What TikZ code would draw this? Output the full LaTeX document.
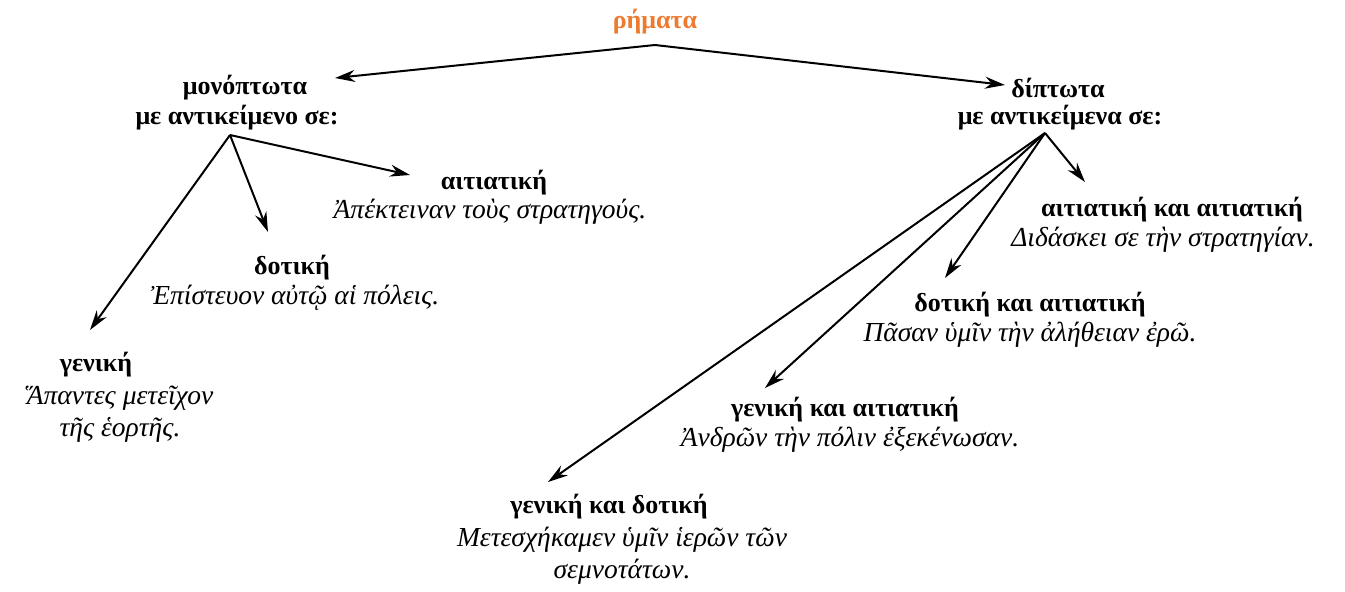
\documentclass[tikz,border=0pt]{standalone}
\usepackage{fontspec}
\setmainfont{Liberation Serif}
\usetikzlibrary{arrows.meta}
\definecolor{rorange}{HTML}{EE7A2E}
\tikzset{
  lbl/.style={inner sep=0pt, font=\fontsize{26}{31}\selectfont\bfseries, anchor=center},
  ex/.style={inner sep=0pt, font=\fontsize{27.5}{32}\selectfont\itshape, anchor=center, align=center},
  arr/.style={line width=2pt, -{Stealth[length=20pt,width=12pt]}},
}
\begin{document}
\begin{tikzpicture}[x=1pt,y=-1pt]
\useasboundingbox (0,0) rectangle (1345,592);
% top
\node[lbl, text=rorange] (rm) at (655,22) {ρήματα};
\coordinate (rmb) at (655,45);
% left branch
\node[lbl] (mono1) at (245,88) {μονόπτωτα};
\node[lbl] (mono2) at (237,118) {με αντικείμενο σε:};
\coordinate (ms) at (230,135);
\node[lbl] (acc) at (494,183) {αιτιατική};
\node[ex] (accx) at (490,212) {Ἀπέκτειναν τοὺς στρατηγούς.};
\node[lbl] (dat) at (292,268) {δοτική};
\node[ex] (datx) at (295,298) {Ἐπίστευον αὐτῷ αἱ πόλεις.};
\node[lbl] (gen) at (96,365) {γενική};
\node[ex] (genx) at (120,414) {Ἅπαντες μετεῖχον\\τῆς ἑορτῆς.};
% right branch
\node[lbl] (di1) at (1058,88) {δίπτωτα};
\node[lbl] (di2) at (1060,118) {με αντικείμενα σε:};
\coordinate (ds) at (1045,133);
\node[lbl] (aa) at (1172,210) {αιτιατική και αιτιατική};
\node[ex] (aax) at (1163,240) {Διδάσκει σε τὴν στρατηγίαν.};
\node[lbl] (da) at (1030,305) {δοτική και αιτιατική};
\node[ex] (dax) at (1030,335) {Πᾶσαν ὑμῖν τὴν ἀλήθειαν ἐρῶ.};
\node[lbl] (ga) at (845,410) {γενική και αιτιατική};
\node[ex] (gax) at (850,440) {Ἀνδρῶν τὴν πόλιν ἐξεκένωσαν.};
\node[lbl] (gd) at (609,507) {γενική και δοτική};
\node[ex] (gdx) at (622,556) {Μετεσχήκαμεν ὑμῖν ἱερῶν τῶν\\σεμνοτάτων.};
% arrow tips
\coordinate (t1) at (335,78);
\coordinate (t2) at (1005,85);
\coordinate (t3) at (410,175);
\coordinate (t4) at (268,232);
\coordinate (t5) at (90,330);
\coordinate (t6) at (1085,182);
\coordinate (t7) at (945,278);
\coordinate (t8) at (765,388);
\coordinate (t9) at (548,482);
\draw[arr] (rmb) -- (t1);
\draw[arr] (rmb) -- (t2);
\draw[arr] (ms) -- (t3);
\draw[arr] (ms) -- (t4);
\draw[arr] (ms) -- (t5);
\draw[arr] (ds) -- (t6);
\draw[arr] (ds) -- (t7);
\draw[arr] (ds) -- (t8);
\draw[arr] (ds) -- (t9);
\end{tikzpicture}
\end{document}
